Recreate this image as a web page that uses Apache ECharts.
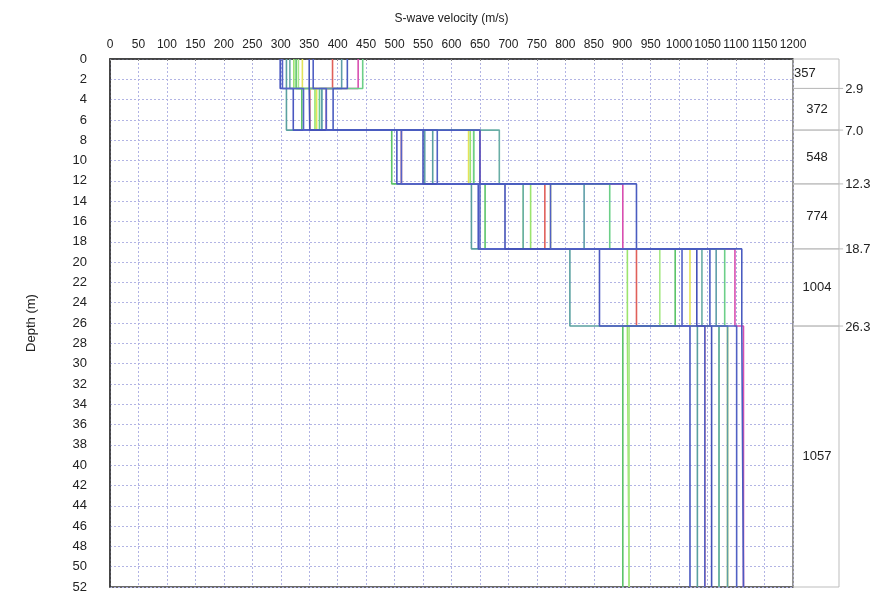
<!DOCTYPE html>
<html>
<head>
<meta charset="utf-8">
<script src="https://cdn.jsdelivr.net/npm/echarts@6/dist/echarts.min.js"></script>
<style>
html,body{margin:0;padding:0;background:#fff;}
#chart{width:881px;height:594px;}
</style>
</head>
<body>
<div id="chart"></div>
<script>
// ---- data ----
const depthBounds = [0, 2.9, 7.0, 12.3, 18.7, 26.3, 52];
const boundaryLabels = ['2.9', '7.0', '12.3', '18.7', '26.3'];
const layerMeans = ['357', '372', '548', '774', '1004', '1057'];
const velocityTicks = [0,50,100,150,200,250,300,350,400,450,500,550,600,650,700,750,800,850,900,950,1000,1050,1100,1150,1200];
const depthTicks = [0,2,4,6,8,10,12,14,16,18,20,22,24,26,28,30,32,34,36,38,40,42,44,46,48,50,52];
const profileNames = ['R','P','Y','LG1','LG2','G1','G2','T1','T2','T3','B1','B2','B3','B4','B5'];
// S-wave velocity of each profile (same order as profileNames) in each layer
const layer1 = [391, 436, 338, 323, 331, 327, 444, 310, 316, 407, 299, 303, 350, 357, 417];
const layer2 = [351, 380, 363, 360, 360, 337, 368, 310, 372, 372, 322, 340, 351, 380, 392];
const layer3 = [512, 650, 630, 633, 639, 495, 639, 567, 684, 553, 504, 512, 550, 575, 650];
const layer4 = [764, 901, 774, 739, 726, 659, 878, 635, 726, 833, 647, 650, 694, 774, 925];
const layer5 = [925, 1098, 1019, 909, 966, 993, 1080, 808, 1040, 1065, 860, 1005, 1031, 1054, 1110];
const layer6 = [1045, 1113, 1085, 912, 912, 901, 1070, 1032, 1070, 1085, 1019, 1045, 1057, 1101, 1113];

// ---- styles ----
const palette = {
  R:'#e0605a', P:'#d84fb0', Y:'#e4e45a', LG1:'#9be46e', LG2:'#a8e888',
  G1:'#5cc46a', G2:'#6ccf88', T1:'#5aa0a0', T2:'#6aaea6', T3:'#5e9ea8',
  B1:'#4a58c0', B2:'#5563c8', B3:'#4452b8', B4:'#5060c4', B5:'#4a5cc0'
};
const layers = [layer1, layer2, layer3, layer4, layer5, layer6];
const FONT = 'Liberation Sans, Arial, sans-serif';
const gridLine = {show:true, lineStyle:{color:'#b2b4e4', width:1, type:[2,2]}};

const series = profileNames.map((name, i) => {
  const pts = [];
  for (let L = 0; L < layers.length; L++) {
    const v = layers[L][i];
    pts.push([v, depthBounds[L]], [v, depthBounds[L + 1]]);
  }
  return {
    type:'line', name, data:pts, xAxisIndex:0, yAxisIndex:0,
    showSymbol:false, symbol:'none', silent:true, animation:false,
    lineStyle:{color:palette[name], width:1.6}, z:3
  };
});

// right-hand table of layer means
const tableData = layerMeans.map((m, i) => [depthBounds[i], depthBounds[i + 1], m, i < boundaryLabels.length ? boundaryLabels[i] : '']);
series.push({
  type:'custom', xAxisIndex:1, yAxisIndex:1, silent:true, animation:false, clip:false,
  data:tableData,
  renderItem:function(params, api){
    const top = api.value(0), bot = api.value(1);
    const p0 = api.coord([0, top]);
    const p1 = api.coord([1, bot]);
    const pExt = api.coord([1.09, bot]);
    const children = [
      {type:'rect', shape:{x:p0[0], y:p0[1], width:p1[0]-p0[0], height:p1[1]-p0[1]},
       style:{fill:null, stroke:'#bdbdbd', lineWidth:1}},
      {type:'text', style:{text:tableData[params.dataIndex][2],
        x: params.dataIndex === 0 ? p0[0] + 1 : (p0[0]+p1[0])/2 + 1,
        y:(p0[1]+p1[1])/2, align: params.dataIndex === 0 ? 'left' : 'center', verticalAlign:'middle',
        font:'13px ' + FONT, fill:'#222'}}
    ];
    const bl = tableData[params.dataIndex][3];
    if (bl) {
      children.push({type:'line', shape:{x1:p1[0], y1:p1[1], x2:pExt[0], y2:p1[1]}, style:{stroke:'#bdbdbd', lineWidth:1}});
      children.push({type:'text', style:{text:bl, x:pExt[0]+2, y:p1[1]+1, align:'left', verticalAlign:'middle',
        font:'13px ' + FONT, fill:'#222'}});
    }
    return {type:'group', children};
  }
});

const option = {
  backgroundColor:'#fff',
  animation:false,
  grid:[
    {left:110, right:88, top:59, bottom:7, show:true, borderColor:'#3a3a3a', borderWidth:1.5, backgroundColor:'#fff'},
    {left:793, width:46, top:59, bottom:7, show:false}
  ],
  xAxis:[
    {type:'value', position:'top', min:velocityTicks[0], max:velocityTicks[velocityTicks.length-1], interval:50,
     name:'S-wave velocity (m/s)', nameLocation:'middle', nameGap:34,
     nameTextStyle:{fontFamily:FONT, fontSize:12, color:'#222'},
     axisLine:{show:true, lineStyle:{color:'#3a3a3a', width:1.5}},
     axisTick:{show:true, inside:true, length:2, lineStyle:{color:'#888'}},
     axisLabel:{fontFamily:FONT, fontSize:12, color:'#222', margin:8, interval:0, hideOverlap:false,
       formatter:v => velocityTicks.includes(v) ? String(v) : ''},
     splitLine:gridLine},
    {type:'value', gridIndex:1, min:0, max:1, show:false}
  ],
  yAxis:[
    {type:'value', inverse:true, min:depthTicks[0], max:depthTicks[depthTicks.length-1], interval:2,
     name:'Depth (m)', nameLocation:'middle', nameGap:72,
     nameTextStyle:{fontFamily:FONT, fontSize:13, color:'#222'},
     axisLine:{show:true, lineStyle:{color:'#3a3a3a', width:1.5}},
     axisTick:{show:false},
     axisLabel:{fontFamily:FONT, fontSize:13, color:'#222', margin:23, interval:0,
       formatter:v => depthTicks.includes(v) ? String(v) : ''},
     splitLine:gridLine},
    {type:'value', gridIndex:1, inverse:true, min:depthBounds[0], max:depthBounds[depthBounds.length-1], show:false}
  ],
  series
};

const chart = echarts.init(document.getElementById('chart'), null, {renderer:'canvas'});
chart.setOption(option);
</script>
</body>
</html>
